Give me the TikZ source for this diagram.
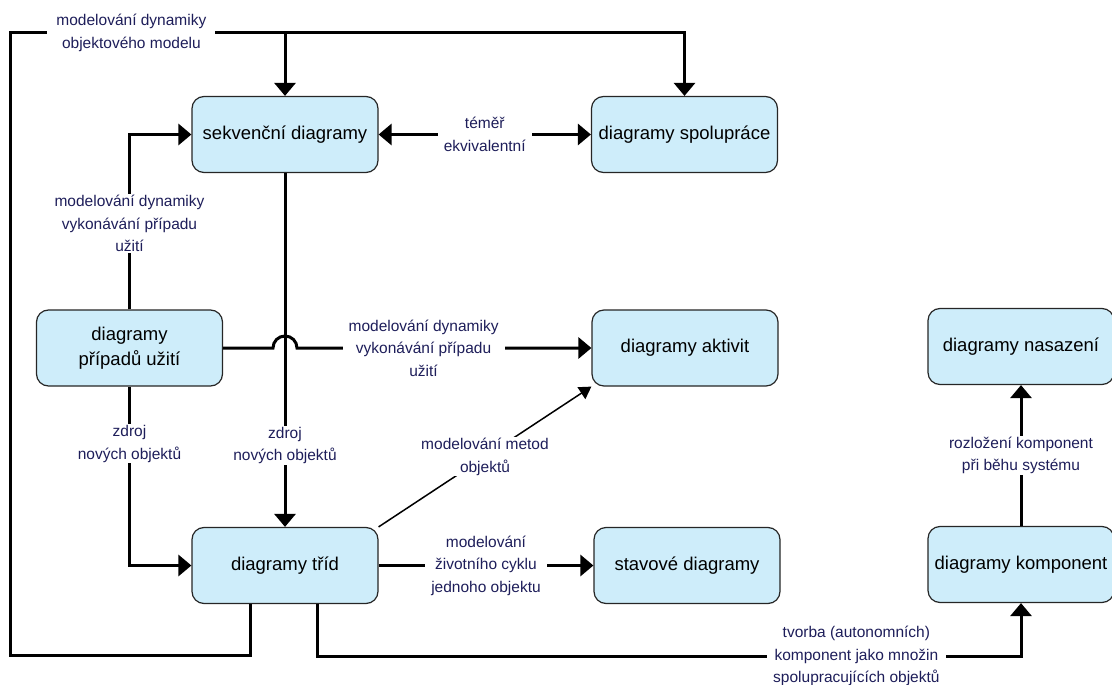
\documentclass[tikz,border=0pt]{standalone}
\usepackage{fontspec}
\setmainfont{Liberation Sans}
\usepackage{tikz}
\usetikzlibrary{arrows.meta}
\definecolor{boxblue}{RGB}{206,237,250}
\definecolor{labelnavy}{RGB}{30,30,90}
\begin{document}
\begin{tikzpicture}[x=1pt,y=-1pt,
    diag/.style={draw=black!85,line width=1.2pt,fill=boxblue,rounded corners=12pt,
        minimum width=186pt,minimum height=76pt,align=center,inner sep=2pt,
        font=\fontsize{18.5}{25}\selectfont},
    lbl/.style={fill=white,text=labelnavy,align=center,inner xsep=6pt,inner ysep=1pt,
        font=\fontsize{15.5}{22.5}\selectfont},
    link/.style={line width=3pt,-{Triangle[width=21pt,length=13pt]}},
    twoway/.style={line width=3pt,{Triangle[width=21pt,length=13pt]}-{Triangle[width=21pt,length=13pt]}},
    thinlink/.style={line width=1.5pt,-{Triangle[width=14pt,length=12pt]}}]
    \useasboundingbox (0,0) rectangle (1112,685);

    % Diagram boxes
    \node[diag] (sekv) at (285,134.5) {sekvenční diagramy};
    \node[diag] (spol) at (684.5,134.5) {diagramy spolupráce};
    \node[diag] (pripady) at (129.5,348) {diagramy\\případů užití};
    \node[diag] (aktivity) at (685,348) {diagramy aktivit};
    \node[diag] (nasazeni) at (1021,346.5) {diagramy nasazení};
    \node[diag] (tridy) at (285,565.5) {diagramy tříd};
    \node[diag] (stavy) at (687,565.5) {stavové diagramy};
    \node[diag] (komponenty) at (1021,564.5) {diagramy komponent};

    % Corners of the outer loop
    \coordinate (topleft) at (10,33);
    \coordinate (botleft) at (10,655);
    \coordinate (hop) at (sekv.south |- pripady.east);

    % Outer loop
    \draw[link] ([xshift=-34.5pt]tridy.south) |- (botleft) -- (topleft)
        -| node[lbl,pos=0.09,inner xsep=9pt]{modelování dynamiky\\objektového modelu} (spol.north);
    \draw[link] (sekv.north |- topleft) -- (sekv.north);

    % Connectors
    \draw[twoway] (sekv) -- node[lbl]{téměř\\ekvivalentní} (spol);
    \draw[link] (pripady.north) |- node[lbl,pos=0.245]{modelování dynamiky\\vykonávání případu\\užití} (sekv.west);
    \draw[link] (pripady.east) -- ([xshift=-12pt]hop) arc[start angle=180,end angle=0,radius=12pt]
        -- node[lbl,pos=0.43]{modelování dynamiky\\vykonávání případu\\užití} (aktivity.west);
    \draw[link] (sekv.south) -- node[lbl,pos=0.77]{zdroj\\nových objektů} (tridy.north);
    \draw[link] (pripady.south) |- node[lbl,pos=0.16]{zdroj\\nových objektů} (tridy.west);
    \draw[thinlink] (tridy.north east) -- node[lbl,inner xsep=2pt]{modelování metod\\objektů} (aktivity.south west);
    \draw[link] (tridy) -- node[lbl]{modelování\\životního cyklu\\jednoho objektu} (stavy);
    \draw[link] ([xshift=32.5pt]tridy.south) -- ++(0,52)
        -| node[lbl,pos=0.383]{tvorba (autonomních)\\komponent jako množin\\spolupracujících objektů} (komponenty.south);
    \draw[link] (komponenty) -- node[lbl]{rozložení komponent\\při běhu systému} (nasazeni);
\end{tikzpicture}
\end{document}
